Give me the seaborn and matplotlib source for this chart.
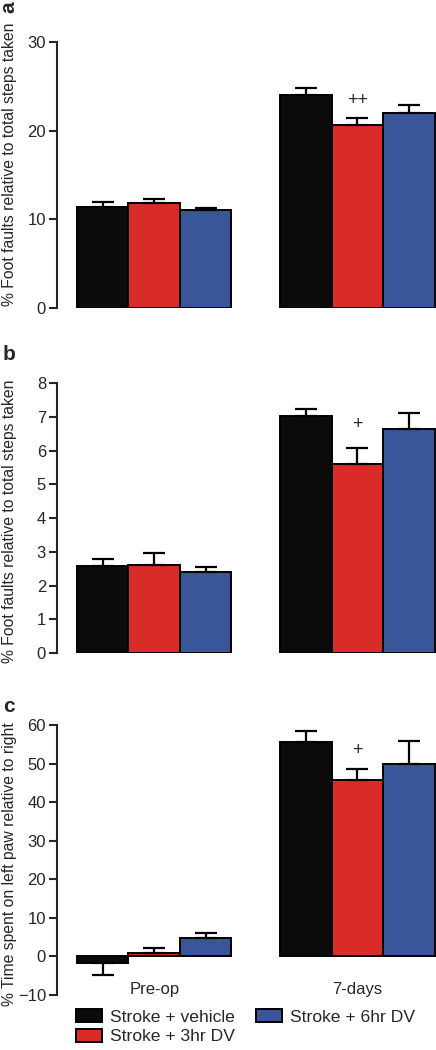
import numpy as np
import pandas as pd
import seaborn as sns
import matplotlib.pyplot as plt
from matplotlib.patches import Patch

# Data
groups = ['Stroke + vehicle', 'Stroke + 3hr DV', 'Stroke + 6hr DV']
times = ['Pre-op', '7-days']
colors = ['#0b0b0b', '#d92b27', '#3a569b']

a_preop = [11.4, 11.8, 11.0]
a_preop_sem = [0.5, 0.45, 0.3]
a_7days = [24.0, 20.6, 22.0]
a_7days_sem = [0.8, 0.8, 0.9]

b_preop = [2.58, 2.6, 2.4]
b_preop_sem = [0.22, 0.38, 0.15]
b_7days = [7.01, 5.6, 6.63]
b_7days_sem = [0.23, 0.49, 0.48]

c_preop = [-1.6, 0.95, 4.9]
c_preop_sem = [3.3, 1.3, 1.1]
c_7days = [55.7, 45.7, 49.9]
c_7days_sem = [2.8, 3.0, 5.9]

panels = [
    ('a', a_preop, a_preop_sem, a_7days, a_7days_sem, (0, 30), [0, 10, 20, 30],
     '% Foot faults relative to total steps taken', '++', 23.4),
    ('b', b_preop, b_preop_sem, b_7days, b_7days_sem, (0, 8), list(range(0, 9)),
     '% Foot faults relative to total steps taken', '+', 6.78),
    ('c', c_preop, c_preop_sem, c_7days, c_7days_sem, (-10, 60), list(range(-10, 70, 10)),
     '% Time spent on left paw relative to right', '+', 53.3),
]

# axes positions [left, bottom, width, height] in figure fraction
positions = [
    [0.131, 0.7067, 0.869, 0.2533],
    [0.131, 0.378, 0.869, 0.2572],
    [0.131, 0.0524, 0.869, 0.2571],
]
letter_xy = [(9, 7), (9, 355), (9, 707)]
letter_rot = [90, 0, 0]
label_y = [0.54, 0.49, 0.485]

sns.set_style('ticks')
plt.rcParams['font.family'] = ['Liberation Sans', 'DejaVu Sans']

fig = plt.figure(figsize=(4.36, 10.5), dpi=100)

for i, ((letter, pre, pre_e, d7, d7_e, ylim, yticks, ylabel, star, star_y), pos) in enumerate(zip(panels, positions)):
    ax = fig.add_axes(pos)
    df = pd.DataFrame({
        'time': [times[0]] * 3 + [times[1]] * 3,
        'group': groups * 2,
        'value': pre + d7,
        'sem': pre_e + d7_e,
    })
    sns.barplot(data=df, x='time', y='value', hue='group', order=times,
                hue_order=groups, palette=colors, width=0.76, errorbar=None,
                edgecolor='black', linewidth=1.4, saturation=1, legend=False, ax=ax)
    # one-sided error bars
    bar_conts = list(ax.containers)
    for gi, cont in enumerate(bar_conts):
        for ti, bar in enumerate(cont):
            row = df[(df['group'] == groups[gi]) & (df['time'] == times[ti])].iloc[0]
            x = bar.get_x() + bar.get_width() / 2
            v, e = row['value'], row['sem']
            yerr = [[0], [e]] if v >= 0 else [[e], [0]]
            ax.errorbar(x, v, yerr=yerr, fmt='none', ecolor='black',
                        elinewidth=1.6, capsize=8, capthick=1.6, zorder=1)
            if ti == 1 and gi == 1:
                ax.text(x, star_y, star, ha='center', va='center', fontsize=13)
    ax.set_xlim(-0.478, 1.387)
    ax.set_ylim(*ylim)
    ax.set_yticks(yticks)
    ax.set_xlabel('')
    ax.set_ylabel(ylabel, fontsize=11.3, labelpad=3)
    ax.yaxis.set_label_coords(-0.106, label_y[i])
    sns.despine(ax=ax, bottom=True)
    ax.spines['left'].set_linewidth(1.5)
    ax.tick_params(axis='y', width=1.5, length=6, labelsize=12, pad=2)
    ax.tick_params(axis='x', length=0, labelsize=12, pad=-9)
    if letter != 'c':
        ax.set_xticklabels([])
    lx, ly = letter_xy[i]
    fig.text(lx / 436, 1 - ly / 1050, letter, fontsize=15, fontweight='bold',
             rotation=letter_rot[i], va='center', ha='center')

handles = [Patch(facecolor=c, edgecolor='black', linewidth=1.4) for c in colors]
fig.legend(handles, groups, loc='upper left', bbox_to_anchor=(0.175, 1 - 1009 / 1050), ncol=2,
           frameon=False, fontsize=12.6, handlelength=1.45, handleheight=0.8,
           handletextpad=0.5, columnspacing=1.2, labelspacing=0.22, borderpad=0,
           borderaxespad=0)

fig.savefig('out.png', dpi=100)
